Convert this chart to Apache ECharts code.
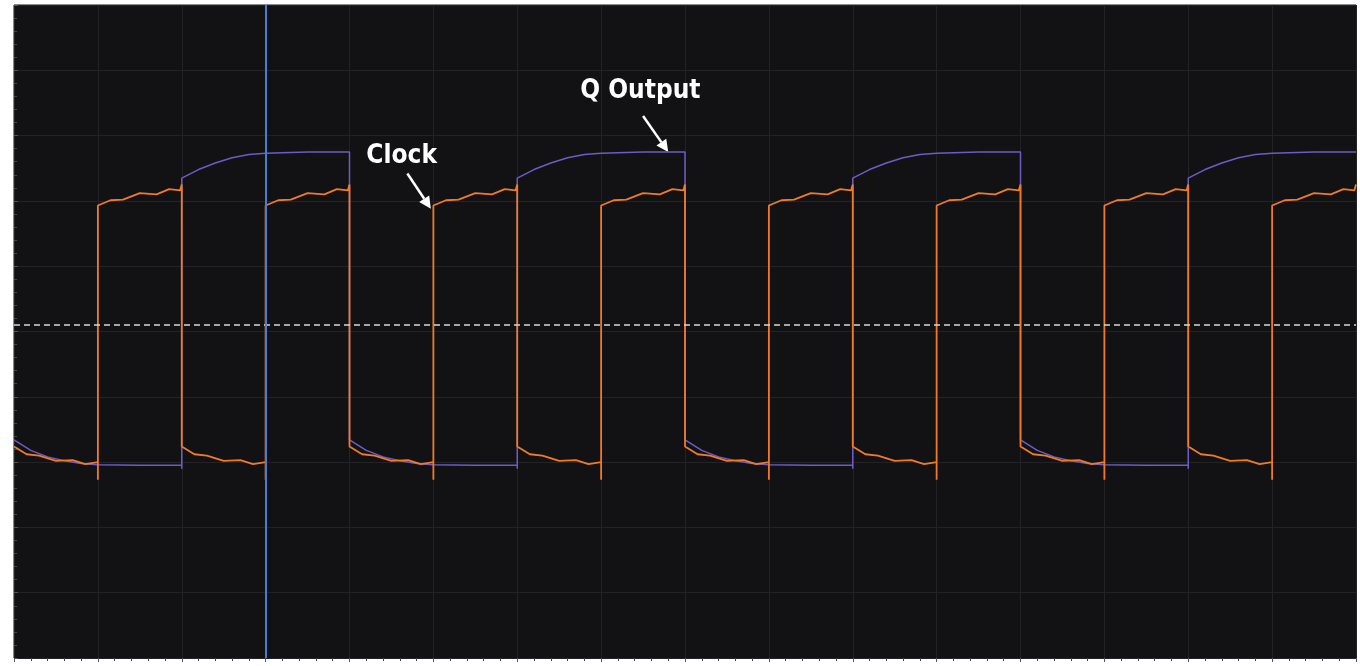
<!DOCTYPE html>
<html><head><meta charset="utf-8">
<script src="https://cdn.jsdelivr.net/npm/echarts@6/dist/echarts.min.js"></script>
<style>html,body{margin:0;background:#fff}#c{width:1360px;height:666px}</style>
</head><body><div id="c"></div>
<script>
// time in divisions, voltage in divisions (0 = bottom)
const clockRise = [1,3,5,7,9,11,13,15];
const clockFall = [2,4,6,8,10,12,14,16];
const clockHighOff = [0,0.02,0.15,0.3,0.5,0.7,0.85,0.98];
const clockHighVal = [6.90,6.93,6.99,7.04,7.09,7.13,7.16,7.18];
const clockLowOff = [0,0.15,0.3,0.5,0.7,0.85,1.0];
const clockLowVal = [3.22,3.14,3.08,3.04,3.01,2.99,2.98];
const clockSpikeLow = 2.73;
const clockRipple = [0.03,-0.03,0.02,-0.02,0.03,-0.03,0.02,-0.02];
const qRise = [2,6,10,14];
const qFall = [0,4,8,12];
const qHighOff = [0,0.2,0.4,0.6,0.8,1.0,1.5,2.0];
const qHighVal = [7.35,7.48,7.58,7.66,7.71,7.73,7.75,7.75];
const qLowOff = [0,0.2,0.4,0.6,0.8,1.0,1.5,2.0];
const qLowVal = [3.34,3.18,3.08,3.02,2.98,2.96,2.95,2.95];
const triggerLevel = 5.1;
const cursorX = 3;
const labels = ["Clock","Q Output"];

const clock = [];
clockLowOff.forEach((o,j)=>clock.push([o, clockLowVal[j]+(j%2?-0.02:0.02)]));
clockRise.forEach((r,i)=>{
  clock.push([r, clockLowVal[clockLowVal.length-1]],[r, clockSpikeLow]);
  clockHighOff.forEach((o,j)=>clock.push([r+o, clockHighVal[j]+clockRipple[j]]));
  const f = clockFall[i];
  clock.push([f, 7.25]);
  if (f < 16) clockLowOff.forEach((o,j)=>clock.push([f+o, clockLowVal[j]+(j%2?-0.02:0.02)]));
});
const q = [];
qFall.forEach((f,i)=>{
  if (f>0) q.push([f, qHighVal[qHighVal.length-1]]);
  qLowOff.forEach((o,j)=>q.push([f+o, qLowVal[j]]));
  const r = qRise[i];
  q.push([r, 2.9]);
  qHighOff.forEach((o,j)=>q.push([r+o, qHighVal[j]]));
});

const chart = echarts.init(document.getElementById('c'));
const axCol = '#232327';
chart.setOption({
  backgroundColor:'#fff',
  animation:false,
  grid:{left:14,right:4,top:5,bottom:8,backgroundColor:'#121215',show:true,borderColor:'#121215'},
  xAxis:{type:'value',min:0,max:16,interval:1,position:'top',
    axisLine:{show:false},axisLabel:{show:false},
    axisTick:{show:true,inside:true,length:4,lineStyle:{color:'#555'}},
    minorTick:{show:true,splitNumber:5,length:3,lineStyle:{color:'#444'}},
    splitLine:{lineStyle:{color:axCol,width:1}}},
  yAxis:{type:'value',min:0,max:10,interval:1,
    axisLine:{show:false},axisLabel:{show:false},
    axisTick:{show:true,inside:true,length:4,lineStyle:{color:'#555'}},
    minorTick:{show:true,splitNumber:5,length:3,lineStyle:{color:'#444'}},
    splitLine:{lineStyle:{color:axCol,width:1}}},
  series:[
    {type:'line',data:q,showSymbol:false,lineStyle:{color:'#6c5cc4',width:1.5},z:3},
    {type:'line',data:clock,showSymbol:false,lineStyle:{color:'#ef7a2a',width:1.8},z:4,
     markLine:{silent:true,symbol:'none',label:{show:false},data:[
       {yAxis:triggerLevel,lineStyle:{color:'#d8d8d8',type:[6,4],width:1.5}},
       {xAxis:cursorX,lineStyle:{color:'#4d7bd0',type:'solid',width:2}}]}}
  ]
});
function px(p){return chart.convertToPixel({gridIndex:0},p);}
const a1s=px([4.69,7.42]), a1e=px([4.97,6.88]), a2s=px([7.5,8.3]), a2e=px([7.8,7.75]);
const lc=px([4.2,7.68]), lq=px([6.75,8.68]);
const font='bold 26px "DejaVu Sans Condensed", Roboto, sans-serif';
function arrow(s,e){
  const dx=e[0]-s[0], dy=e[1]-s[1], L=Math.hypot(dx,dy), ux=dx/L, uy=dy/L;
  const bx=e[0]-ux*12, by=e[1]-uy*12;
  return [
    {type:'line',shape:{x1:s[0],y1:s[1],x2:bx,y2:by},style:{stroke:'#fff',lineWidth:2.5}},
    {type:'polygon',shape:{points:[[e[0],e[1]],[bx-uy*6,by+ux*6],[bx+uy*6,by-ux*6]]},style:{fill:'#fff'}}];
}
chart.setOption({graphic:[
  {type:'text',x:lc[0],y:lc[1],style:{text:labels[0],fill:'#fff',font:font,verticalAlign:'middle'}},
  {type:'text',x:lq[0],y:lq[1],style:{text:labels[1],fill:'#fff',font:font,verticalAlign:'middle'}},
  ...arrow(a1s,a1e), ...arrow(a2s,a2e)
]});
</script></body></html>
